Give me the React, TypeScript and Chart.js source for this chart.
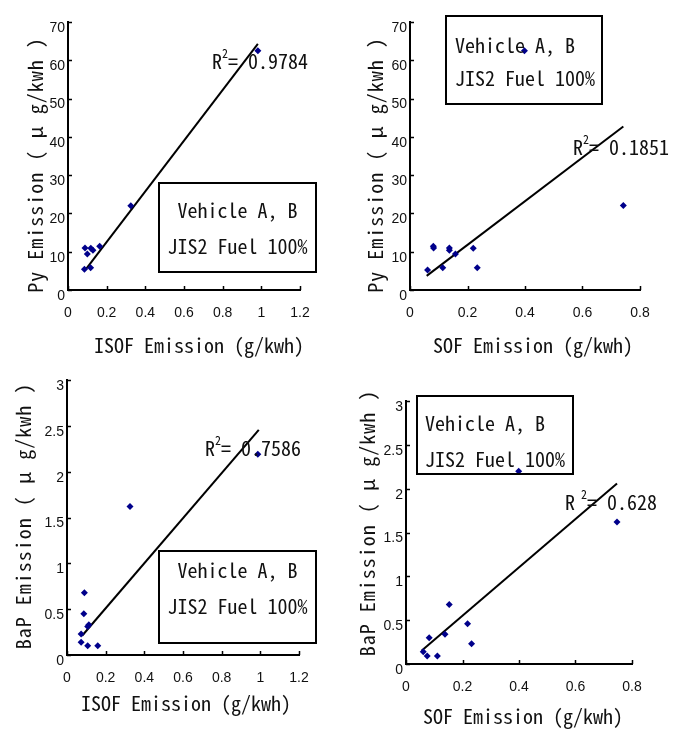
import React, { useEffect, useRef } from "react";
import { Chart, registerables } from "chart.js";
Chart.register(...registerables);

const TITLE_FONT = "'Noto Sans Mono CJK JP', 'Liberation Sans Narrow', 'Liberation Sans', sans-serif";
const TICK_FONT = "'Liberation Sans Narrow', 'Liberation Sans', Arial, sans-serif";
const POINT_COLOR = "#00008b";

// ---- Data: Py vs ISOF (top-left)
const pyIsofX = [0.088, 0.100, 0.118, 0.129, 0.164, 0.085, 0.117, 0.325, 0.982];
const pyIsofY = [11.0, 9.4, 10.9, 10.4, 11.4, 5.4, 5.8, 22.0, 62.5];
const pyIsofFitX = [0.092, 0.982];
const pyIsofFitY = [5.4, 64.3];
const pyIsofR2 = "0.9784";

// ---- Data: Py vs SOF (top-right)
const pySofX = [0.061, 0.081, 0.082, 0.114, 0.137, 0.137, 0.158, 0.220, 0.234, 0.398, 0.742];
const pySofY = [5.2, 11.4, 11.0, 5.8, 11.0, 10.4, 9.4, 10.9, 5.8, 62.5, 22.1];
const pySofFitX = [0.058, 0.742];
const pySofFitY = [3.7, 42.7];
const pySofR2 = "0.1851";

// ---- Data: BaP vs ISOF (bottom-left)
const bapIsofX = [0.090, 0.087, 0.113, 0.107, 0.073, 0.073, 0.107, 0.159, 0.326, 0.987];
const bapIsofY = [0.68, 0.45, 0.33, 0.31, 0.23, 0.14, 0.10, 0.10, 1.62, 2.19];
const bapIsofFitX = [0.078, 0.992];
const bapIsofFitY = [0.21, 2.455];
const bapIsofR2 = "0.7586";

// ---- Data: BaP vs SOF (bottom-right)
const bapSofX = [0.061, 0.075, 0.111, 0.082, 0.138, 0.153, 0.218, 0.232, 0.399, 0.747];
const bapSofY = [0.14, 0.09, 0.09, 0.30, 0.34, 0.68, 0.46, 0.23, 2.2, 1.62];
const bapSofFitX = [0.055, 0.747];
const bapSofFitY = [0.15, 2.06];
const bapSofR2 = "0.628";

const PY_TITLE = "Py Emission ( μ g/kwh )";
const BAP_TITLE = "BaP Emission ( μ g/kwh )";
const ISOF_TITLE = "ISOF Emission (g/kwh)";
const SOF_TITLE = "SOF Emission (g/kwh)";
const BOX_LINE1 = "Vehicle A, B";
const BOX_LINE2 = "JIS2 Fuel 100%";

type PanelDef = {
  left: number; top: number; width: number; height: number;
  area: { l: number; r: number; t: number; b: number };
  xMax: number; xStep: number; yMax: number; yStep: number;
  xs: number[]; ys: number[]; fitX: number[]; fitY: number[];
  r2: string; r2Gap: number; r2Pos: [number, number];
  xTitle: string; yTitle: string;
  xTitlePos: [number, number]; yTitlePos: [number, number];
  box: { x: number; y: number; w: number; h: number; align: "center" | "left"; tx: number; ty1: number; ty2: number };
};

const panels: PanelDef[] = [
  {
    left: 0, top: 0, width: 340, height: 360,
    area: { l: 68, r: 300, t: 22, b: 290 },
    xMax: 1.2, xStep: 0.2, yMax: 70, yStep: 10,
    xs: pyIsofX, ys: pyIsofY, fitX: pyIsofFitX, fitY: pyIsofFitY,
    r2: pyIsofR2, r2Gap: 0, r2Pos: [212, 61],
    xTitle: ISOF_TITLE, yTitle: PY_TITLE, xTitlePos: [199, 345], yTitlePos: [35, 165],
    box: { x: 159, y: 183, w: 157, h: 89, align: "center", tx: 237.5, ty1: 210, ty2: 246 },
  },
  {
    left: 340, top: 0, width: 347, height: 360,
    area: { l: 70, r: 300, t: 22, b: 290 },
    xMax: 0.8, xStep: 0.2, yMax: 70, yStep: 10,
    xs: pySofX, ys: pySofY, fitX: pySofFitX, fitY: pySofFitY,
    r2: pySofR2, r2Gap: 0, r2Pos: [233, 147],
    xTitle: SOF_TITLE, yTitle: PY_TITLE, xTitlePos: [193, 345], yTitlePos: [35, 165],
    box: { x: 106, y: 16, w: 156, h: 88, align: "left", tx: 115, ty1: 45, ty2: 78 },
  },
  {
    left: 0, top: 360, width: 340, height: 371,
    area: { l: 67, r: 299, t: 20, b: 295 },
    xMax: 1.2, xStep: 0.2, yMax: 3, yStep: 0.5,
    xs: bapIsofX, ys: bapIsofY, fitX: bapIsofFitX, fitY: bapIsofFitY,
    r2: bapIsofR2, r2Gap: 0, r2Pos: [205, 88],
    xTitle: ISOF_TITLE, yTitle: BAP_TITLE, xTitlePos: [186, 343], yTitlePos: [23, 156],
    box: { x: 159, y: 191, w: 157, h: 92, align: "center", tx: 237.5, ty1: 210, ty2: 246 },
  },
  {
    left: 340, top: 360, width: 347, height: 371,
    area: { l: 66, r: 292, t: 41, b: 304 },
    xMax: 0.8, xStep: 0.2, yMax: 3, yStep: 0.5,
    xs: bapSofX, ys: bapSofY, fitX: bapSofFitX, fitY: bapSofFitY,
    r2: bapSofR2, r2Gap: 6, r2Pos: [225, 142],
    xTitle: SOF_TITLE, yTitle: BAP_TITLE, xTitlePos: [183, 356], yTitlePos: [27, 163],
    box: { x: 77, y: 36, w: 156, h: 78, align: "left", tx: 85, ty1: 63, ty2: 99 },
  },
];

const fmtTick = (v: any) => String(Number(Number(v).toFixed(3)));

function makeDecor(p: PanelDef) {
  return {
    id: "decor",
    afterDatasetsDraw(chart: any) {
      const ctx = chart.ctx as CanvasRenderingContext2D;
      const ca = chart.chartArea;
      const xs = chart.scales.x;
      const ys = chart.scales.y;
      ctx.save();
      ctx.strokeStyle = "#000";
      ctx.lineWidth = 1.5;
      ctx.beginPath();
      xs.ticks.forEach((t: any) => {
        const px = Math.round(xs.getPixelForValue(t.value)) + 0.5;
        ctx.moveTo(px, ca.bottom);
        ctx.lineTo(px, ca.bottom - 4);
      });
      ys.ticks.forEach((t: any) => {
        const py = Math.round(ys.getPixelForValue(t.value)) + 0.5;
        ctx.moveTo(ca.left, py);
        ctx.lineTo(ca.left + 4, py);
      });
      ctx.stroke();

      // legend-like box
      ctx.lineWidth = 2;
      ctx.strokeRect(p.box.x, p.box.y, p.box.w, p.box.h);
      ctx.fillStyle = "#111";
      ctx.font = `20px ${TITLE_FONT}`;
      ctx.textBaseline = "middle";
      ctx.textAlign = p.box.align;
      ctx.fillText(BOX_LINE1, p.box.tx, p.box.ty1);
      ctx.fillText(BOX_LINE2, p.box.tx, p.box.ty2);

      // R^2 label
      ctx.textAlign = "left";
      let x = p.r2Pos[0];
      const y = p.r2Pos[1];
      ctx.font = `20px ${TITLE_FONT}`;
      ctx.fillText("R", x, y);
      x += ctx.measureText("R").width + p.r2Gap;
      ctx.font = `12px ${TITLE_FONT}`;
      ctx.fillText("2", x, y - 8);
      x += ctx.measureText("2").width;
      ctx.font = `20px ${TITLE_FONT}`;
      ctx.fillText("= " + p.r2, x, y);

      // axis titles
      ctx.textAlign = "center";
      ctx.fillText(p.xTitle, p.xTitlePos[0], p.xTitlePos[1]);
      ctx.translate(p.yTitlePos[0], p.yTitlePos[1]);
      ctx.rotate(-Math.PI / 2);
      (ctx as any).letterSpacing = "1px";
      ctx.fillText(p.yTitle, 0, 0);
      ctx.restore();
    },
  };
}

function Panel({ p }: { p: PanelDef }) {
  const ref = useRef<HTMLCanvasElement>(null);
  useEffect(() => {
    if (!ref.current) return;
    const tickFont = { family: TICK_FONT, size: 14 };
    const chart = new Chart(ref.current, {
      type: "scatter",
      data: {
        datasets: [
          {
            data: p.xs.map((x, i) => ({ x, y: p.ys[i] })),
            pointStyle: "rectRot",
            pointRadius: 3.5,
            backgroundColor: POINT_COLOR,
            borderColor: POINT_COLOR,
            borderWidth: 0,
          },
          {
            data: p.fitX.map((x, i) => ({ x, y: p.fitY[i] })),
            showLine: true,
            pointRadius: 0,
            borderColor: "#000",
            borderWidth: 2,
            fill: false,
          },
        ],
      },
      options: {
        animation: false,
        responsive: false,
        devicePixelRatio: 1,
        layout: { padding: { left: 0, top: p.area.t, right: p.width - p.area.r, bottom: 0 } },
        plugins: { legend: { display: false }, tooltip: { enabled: false } },
        scales: {
          x: {
            type: "linear",
            min: 0,
            max: p.xMax,
            ticks: { stepSize: p.xStep, padding: 15, font: tickFont, color: "#111", maxRotation: 0, autoSkip: false, callback: fmtTick },
            grid: { display: false, drawTicks: false },
            border: { display: true, color: "#000", width: 2 },
            afterFit: (s: any) => { s.height = p.height - p.area.b; },
          },
          y: {
            type: "linear",
            min: 0,
            max: p.yMax,
            ticks: { stepSize: p.yStep, padding: 3, labelOffset: 6, font: tickFont, color: "#111", autoSkip: false, callback: fmtTick },
            grid: { display: false, drawTicks: false },
            border: { display: true, color: "#000", width: 2 },
            afterFit: (s: any) => { s.width = p.area.l; },
          },
        },
      } as any,
      plugins: [makeDecor(p)],
    });
    return () => chart.destroy();
  }, [p]);
  return (
    <canvas
      ref={ref}
      width={p.width}
      height={p.height}
      style={{ position: "absolute", left: p.left, top: p.top, width: p.width, height: p.height, display: "block" }}
    />
  );
}

export default function App() {
  return (
    <div style={{ position: "absolute", left: 0, top: 0, width: 687, height: 731, background: "#fff" }}>
      {panels.map((p, i) => (
        <Panel key={i} p={p} />
      ))}
    </div>
  );
}
